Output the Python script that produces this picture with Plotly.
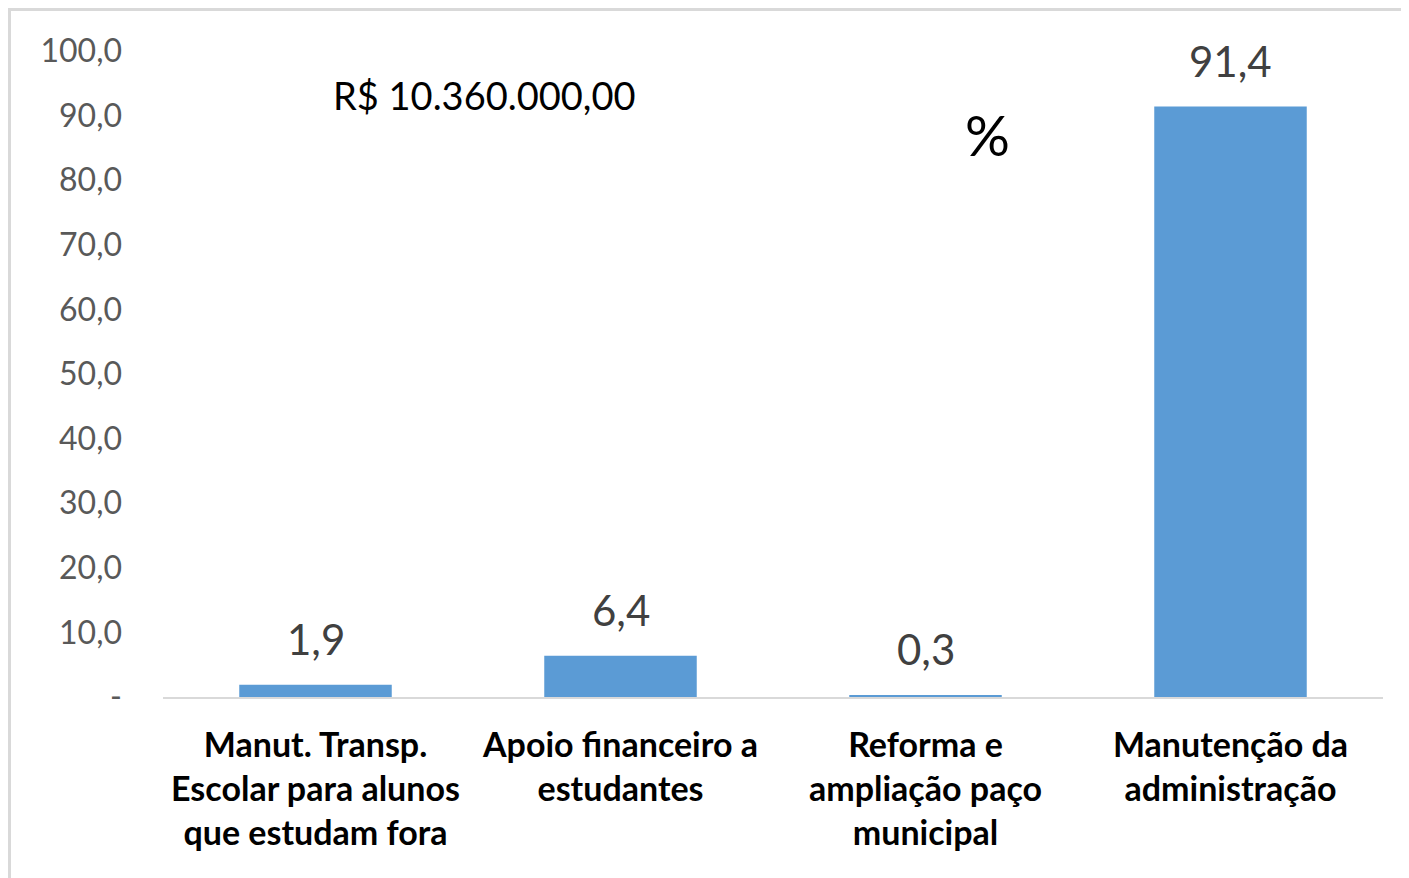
import plotly.graph_objects as go

categories = [
    "Manut. Transp.<br>Escolar para alunos<br>que estudam fora",
    "Apoio financeiro a<br>estudantes",
    "Reforma e<br>ampliação paço<br>municipal",
    "Manutenção da<br>administração",
]
values = [1.9, 6.4, 0.3, 91.4]
value_labels = ["1,9", "6,4", "0,3", "91,4"]
tick_vals = [0, 10, 20, 30, 40, 50, 60, 70, 80, 90, 100]
tick_text = ["-", "10,0", "20,0", "30,0", "40,0", "50,0", "60,0", "70,0", "80,0", "90,0", "100,0"]

FONT = "Lato, Calibri, Carlito, sans-serif"

# figure is rendered with an 8px page offset; plot area in figure coords
L, T, PW, PH = 155, 43, 1220, 646
W, H = 1409, 878

fig = go.Figure()
fig.add_trace(go.Bar(
    x=list(range(len(categories))), y=values,
    marker=dict(color="#5b9bd5", line=dict(width=0)),
    width=0.5, hoverinfo="skip",
))

annotations = []
for i, (v, t) in enumerate(zip(values, value_labels)):
    annotations.append(dict(x=i, y=v, text=t, showarrow=False, xref="x", yref="y",
                            yanchor="middle", yshift=46,
                            font=dict(family=FONT, size=42, color="#404040")))
annotations.append(dict(x=0.554, y=93.2, text="R$ 10.360.000,00", showarrow=False,
                        xref="x", yref="y", xanchor="center", yanchor="middle",
                        font=dict(family=FONT, size=38, color="#000000")))
annotations.append(dict(x=2.203, y=87.0, text="%", showarrow=False,
                        xref="x", yref="y", xanchor="center", yanchor="middle",
                        font=dict(family=FONT, size=56, color="#000000")))

fig.update_layout(
    width=W, height=H,
    margin=dict(l=L, r=W - L - PW, t=T, b=H - T - PH),
    paper_bgcolor="white", plot_bgcolor="white",
    showlegend=False,
    annotations=annotations,
    shapes=[dict(type="rect", xref="paper", yref="paper",
                 x0=(1.5 - L) / PW, x1=(1450 - L) / PW,
                 y0=(T + PH - 920) / PH, y1=(T + PH - 1.5) / PH,
                 line=dict(color="#d9d9d9", width=3), fillcolor="rgba(0,0,0,0)", layer="below")],
    xaxis=dict(
        tickmode="array", tickvals=list(range(len(categories))), ticktext=categories,
        range=[-0.5, 3.5], showgrid=False, zeroline=False,
        showline=True, linecolor="#d9d9d9", linewidth=2, ticks="",
        tickfont=dict(family=FONT, size=34, color="#000000", weight="bold"),
        ticklabelstandoff=17, tickangle=0,
    ),
    yaxis=dict(
        range=[0, 100], tickmode="array", tickvals=tick_vals, ticktext=tick_text,
        showgrid=False, zeroline=False, showline=False, ticks="",
        tickfont=dict(family=FONT, size=32, color="#595959"),
        ticklabelstandoff=40,
    ),
)

fig.write_html("out.html")
